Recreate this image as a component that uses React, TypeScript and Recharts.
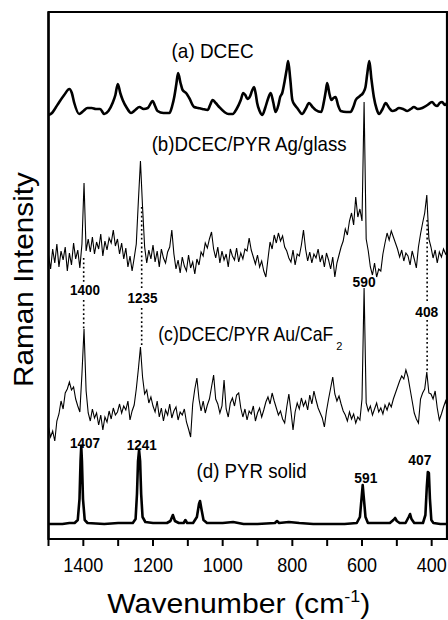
import React from 'react';
import { LineChart, Line, XAxis, YAxis, ReferenceLine, ReferenceDot, ReferenceArea, Label } from 'recharts';

const FONT = '"Liberation Sans", Arial, Helvetica, sans-serif';

// (a) DCEC : [wavenumber, intensity]
const spectrumA: [number, number][] = [
  [1500, 424], [1490, 426], [1480, 431], [1469, 437], [1455, 444], [1440, 450], [1433, 446], [1426, 436],
  [1412, 425], [1400, 428], [1388, 431], [1376, 431], [1364, 430], [1352, 430], [1340, 425], [1328, 428],
  [1316, 436], [1308, 444], [1301, 455], [1294, 446], [1287, 439], [1275, 431], [1263, 426], [1251, 429],
  [1239, 432], [1227, 430], [1215, 431], [1201, 438], [1194, 433], [1187, 428], [1170, 426], [1153, 426],
  [1145, 433], [1139, 442], [1133, 455], [1128, 466], [1121, 456], [1115, 449], [1105, 446], [1096, 441],
  [1082, 432], [1070, 431], [1058, 430], [1043, 429], [1036, 434], [1029, 439], [1020, 436], [1010, 432],
  [995, 427], [983, 425], [971, 425], [960, 430], [948, 439], [941, 446], [935, 444], [929, 440],
  [921, 443], [916, 448], [910, 452], [905, 445], [901, 436], [894, 428], [886, 424], [878, 431],
  [870, 440], [862, 446], [855, 437], [848, 427], [840, 434], [835, 442], [829, 446], [822, 458],
  [816, 470], [812, 478], [806, 460], [800, 439], [793, 434], [786, 431], [772, 425], [762, 430],
  [752, 436], [742, 432], [733, 429], [717, 427], [709, 438], [704, 448], [700, 456], [694, 446],
  [688, 439], [682, 441], [676, 442], [668, 433], [661, 428], [645, 427], [633, 427], [625, 432],
  [618, 439], [606, 443], [597, 446], [590, 452], [585, 465], [579, 478], [573, 460], [566, 442],
  [558, 430], [551, 425], [541, 430], [532, 436], [522, 431], [513, 428], [503, 429], [494, 431],
  [482, 430], [470, 428], [460, 430], [451, 432], [440, 430], [427, 431], [412, 434], [399, 437],
  [391, 434], [384, 433], [377, 436], [370, 437], [362, 434], [354, 437],
];

// (b) and (c) sampled every 6 cm-1 from 1500 cm-1 downwards
const gridStart = 1500;
const gridStep = 6;
const valuesB: number[] = [
  284, 270, 290, 276, 295, 272, 288, 279, 292, 268,
  286, 274, 296, 280, 289, 271, 295, 356, 288, 300,
  287, 302, 285, 297, 290, 305, 283, 298, 289, 301,
  296, 309, 293, 300, 285, 296, 280, 291, 272, 283,
  268, 281, 295, 338, 378, 332, 292, 276, 289, 280,
  294, 277, 288, 272, 290, 281, 276, 287, 292, 309,
  285, 270, 279, 266, 282, 273, 268, 284, 271, 277,
  265, 280, 274, 287, 283, 296, 291, 300, 307, 290,
  281, 292, 276, 288, 279, 285, 272, 290, 283, 279,
  291, 277, 286, 280, 290, 288, 301, 289, 282, 275,
  284, 272, 278, 268, 262, 280, 297, 290, 304, 296,
  306, 298, 303, 292, 288, 281, 277, 289, 274, 285,
  283, 294, 309, 290, 278, 287, 276, 285, 281, 290,
  277, 284, 272, 286, 279, 270, 282, 262, 276, 284,
  292, 298, 310, 304, 318, 326, 314, 342, 322, 330,
  318, 437, 300, 288, 272, 264, 276, 262, 270, 268,
  285, 296, 306, 299, 308, 302, 296, 290, 282, 289,
  278, 286, 283, 274, 288, 280, 271, 292, 305, 316,
  326, 344, 300, 292, 281, 289, 276, 287, 282, 290,
  285, 288,
];
const valuesC: number[] = [
  112, 102, 108, 98, 118, 125, 138, 130, 146, 150,
  157, 149, 152, 140, 133, 127, 165, 210, 148, 126,
  118, 130, 121, 126, 114, 124, 109, 122, 117, 128,
  120, 131, 124, 127, 135, 126, 133, 129, 138, 119,
  128, 134, 150, 170, 192, 162, 145, 149, 136, 142,
  133, 127, 138, 122, 131, 118, 129, 124, 135, 121,
  128, 132, 119, 127, 124, 130, 117, 110, 102, 135,
  150, 161, 140, 128, 138, 126, 134, 140, 152, 164,
  140, 135, 126, 133, 159, 130, 122, 136, 141, 133,
  144, 146, 131, 122, 130, 119, 128, 125, 133, 118,
  126, 131, 122, 129, 137, 142, 135, 146, 138, 131,
  124, 128, 120, 116, 132, 145, 128, 109, 127, 136,
  130, 141, 133, 138, 129, 144, 135, 148, 139, 131,
  126, 121, 112, 128, 140, 151, 162, 145, 138, 143,
  135, 128, 124, 118, 127, 120, 125, 116, 122, 119,
  140, 251, 136, 128, 133, 124, 130, 136, 127, 131,
  125, 134, 129, 136, 132, 140, 146, 152, 158, 163,
  160, 169, 162, 150, 138, 126, 120, 116, 140, 146,
  150, 167, 146, 145, 140, 148, 131, 119, 125, 132,
  138, 130,
];

// (d) PYR solid : [wavenumber, intensity]
const spectrumD: [number, number][] = [
  [1500, 15], [1460, 15], [1440, 16], [1425, 16], [1416, 19], [1411, 40], [1408, 78], [1406, 93],
  [1404, 78], [1401, 40], [1396, 19], [1388, 16], [1340, 15], [1300, 16], [1258, 16], [1250, 20],
  [1246, 45], [1243, 78], [1240, 89], [1237, 78], [1234, 45], [1230, 22], [1222, 17], [1200, 16],
  [1160, 16], [1150, 18], [1143, 24], [1137, 18], [1126, 16], [1112, 16], [1107, 19], [1102, 16],
  [1085, 16], [1074, 22], [1068, 35], [1065, 38], [1061, 30], [1055, 19], [1045, 16], [1000, 16],
  [970, 17], [940, 15], [900, 15], [850, 16], [844, 18], [838, 16], [810, 17], [780, 16],
  [740, 15], [700, 15], [650, 15], [615, 16], [606, 22], [601, 42], [598, 54], [595, 42],
  [590, 22], [583, 16], [560, 16], [520, 16], [510, 19], [505, 21], [500, 18], [492, 16],
  [475, 16], [466, 22], [462, 25], [458, 20], [450, 16], [425, 16], [418, 24], [414, 52],
  [411, 67], [408, 66], [405, 40], [401, 19], [395, 16], [375, 15], [354, 15],
];

const xTicks = [1500, 1400, 1300, 1200, 1100, 1000, 900, 800, 700, 600, 500, 400];

const panelTitles = [
  { w: 1029, v: 481, text: '(a) DCEC', sub: '' },
  { w: 924, v: 388, text: '(b)DCEC/PYR Ag/glass', sub: '' },
  { w: 1185, v: 198, text: '(c)DCEC/PYR Au/CaF', sub: '2' },
  { w: 917, v: 61, text: '(d) PYR solid', sub: '' },
];
const titleStyle: Record<string, { len: number; anchor: 'middle' | 'start' }> = {
  '(a) DCEC': { len: 82, anchor: 'middle' },
  '(b)DCEC/PYR Ag/glass': { len: 195, anchor: 'middle' },
  '(c)DCEC/PYR Au/CaF': { len: 175, anchor: 'start' },
  '(d) PYR solid': { len: 110, anchor: 'middle' },
};

const peakLabels = [
  { w: 1395, v: 244, text: '1400' },
  { w: 1230, v: 236, text: '1235' },
  { w: 594, v: 252.5, text: '590' },
  { w: 414, v: 222.5, text: '408' },
  { w: 1395, v: 91, text: '1407' },
  { w: 1232.5, v: 89, text: '1241' },
  { w: 589, v: 56, text: '591' },
  { w: 434, v: 74, text: '407' },
];

const guides = [
  { w: 1399, from: 281, to: 256 },
  { w: 1399, from: 239, to: 210 },
  { w: 1232.5, from: 332, to: 249 },
  { w: 1232.5, from: 231, to: 192 },
  { w: 413, from: 319, to: 237 },
  { w: 413, from: 219, to: 167 },
];

const dataA = spectrumA.map(([w, v]) => ({ w, v }));
const dataB = valuesB.map((v, i) => ({ w: gridStart - gridStep * i, v }));
const dataC = valuesC.map((v, i) => ({ w: gridStart - gridStep * i, v }));
const dataD = spectrumD.map(([w, v]) => ({ w, v }));

const XTick = (props: any) => {
  const { x, y, payload } = props;
  const val = payload.value as number;
  if (val % 200 !== 0) return <g />;
  const s = String(val);
  return (
    <text x={x} y={y + 26} textAnchor="middle" fontFamily={FONT} fontSize={21} fill="#000"
      textLength={s.length === 4 ? 40 : 30} lengthAdjust="spacingAndGlyphs">{s}</text>
  );
};

const XTitle = (props: any) => {
  const vb = props.viewBox || { x: 48.5, y: 539, width: 398.5, height: 81 };
  const cx = vb.x + vb.width / 2 - 9;
  return (
    <text x={cx} y={vb.y + 74} textAnchor="middle" fontFamily={FONT} fontSize={27} fill="#000"
      textLength={263} lengthAdjust="spacingAndGlyphs">
      Wavenumber (cm<tspan fontSize={16} dy={-11}>-1</tspan><tspan fontSize={27} dy={11}>)</tspan>
    </text>
  );
};

const YTitle = (props: any) => {
  const vb = props.viewBox || { x: 0.5, y: 12, width: 48, height: 527 };
  const x = 33;
  const y = vb.y + vb.height / 2 + 4;
  return (
    <text x={x} y={y} transform={`rotate(-90, ${x}, ${y})`} textAnchor="middle" fontFamily={FONT}
      fontSize={28} fill="#000" textLength={215} lengthAdjust="spacingAndGlyphs">Raman Intensity</text>
  );
};

export default function App() {
  return (
    <div style={{ position: 'absolute', left: 0, top: 0, background: '#fff' }}>
      <LineChart width={448} height={620} margin={{ top: 12, right: 1, bottom: 0, left: 0.5 }}>
        <XAxis dataKey="w" type="number" domain={[356, 1500]} reversed allowDataOverflow ticks={xTicks}
          interval={0} height={81} tickSize={7} tickMargin={0} axisLine={{ stroke: '#000', strokeWidth: 2 }}
          tickLine={{ stroke: '#000', strokeWidth: 2 }} tick={<XTick />}>
          <Label content={<XTitle />} />
        </XAxis>
        <YAxis type="number" domain={[0, 527]} allowDataOverflow width={48} tick={false} tickLine={false}
          axisLine={{ stroke: '#000', strokeWidth: 2.2 }}>
          <Label content={<YTitle />} />
        </YAxis>
        <ReferenceArea x1={356} x2={1500} y1={0} y2={527} fill="none" stroke="#000" strokeWidth={2.2} ifOverflow="visible" />
        <Line data={dataA} dataKey="v" type="monotone" dot={false} stroke="#000" strokeWidth={2.6}
          strokeLinejoin="round" isAnimationActive={false} />
        <Line data={dataB} dataKey="v" type="linear" dot={false} stroke="#000" strokeWidth={1.1}
          isAnimationActive={false} />
        <Line data={dataC} dataKey="v" type="linear" dot={false} stroke="#000" strokeWidth={1.1}
          isAnimationActive={false} />
        <Line data={dataD} dataKey="v" type="linear" dot={false} stroke="#000" strokeWidth={2.6}
          strokeLinejoin="round" isAnimationActive={false} />
        {guides.map((g, i) => (
          <ReferenceLine key={'g' + i} segment={[{ x: g.w, y: g.from }, { x: g.w, y: g.to }]}
            stroke="#000" strokeWidth={1.6} strokeDasharray="1.8 2.6" ifOverflow="visible" />
        ))}
        {panelTitles.map((t) => (
          <ReferenceDot key={t.text} x={t.w} y={t.v} r={0} ifOverflow="visible"
            shape={(p: any) => (
              <g>
                <text x={p.cx} y={p.cy} textAnchor={titleStyle[t.text].anchor} fontFamily={FONT} fontSize={21}
                  fill="#000" textLength={titleStyle[t.text].len} lengthAdjust="spacingAndGlyphs">{t.text}</text>
                {t.sub ? (
                  <text x={p.cx + titleStyle[t.text].len + 3} y={p.cy + 9} fontFamily={FONT} fontSize={11}
                    fill="#000">{t.sub}</text>
                ) : null}
              </g>
            )} />
        ))}
        {peakLabels.map((t, i) => (
          <ReferenceDot key={'p' + i} x={t.w} y={t.v} r={0} ifOverflow="visible"
            shape={(p: any) => (
              <text x={p.cx} y={p.cy} textAnchor="middle" fontFamily={FONT} fontSize={15} fontWeight="bold"
                fill="#000" textLength={t.text.length === 4 ? 30 : 23} lengthAdjust="spacingAndGlyphs">{t.text}</text>
            )} />
        ))}
      </LineChart>
    </div>
  );
}
